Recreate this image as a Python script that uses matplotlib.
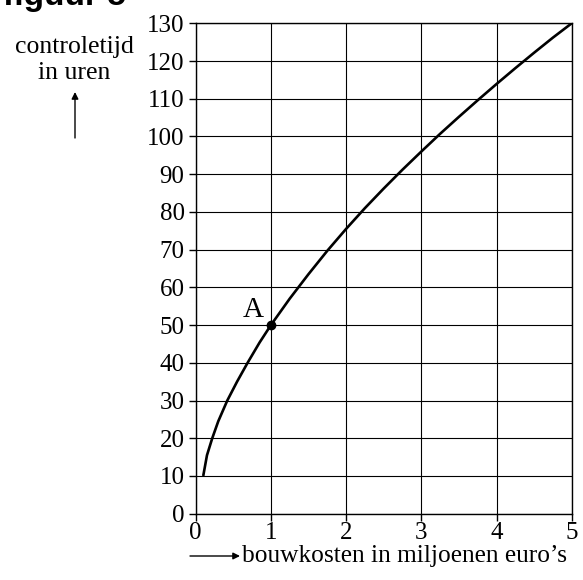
import numpy as np
import matplotlib.pyplot as plt

# values (bouwkosten in miljoenen, controletijd in uren)
kosten = [0.1, 0.15, 0.22, 0.3, 0.42, 0.55, 0.69, 0.85, 1.0, 1.25, 1.5, 1.75,
          2.0, 2.25, 2.5, 2.75, 3.0, 3.25, 3.5, 3.75, 4.0, 4.25, 4.5, 4.75, 5.0]
uren = [10, 15.5, 20, 24.5, 30, 35, 40, 45.4, 50, 57, 63.5, 69.7,
        75.5, 81, 86.2, 91.2, 96, 100.7, 105.2, 109.6, 113.9, 118.1, 122.2, 126.2, 130]
punt_a = (1, 50)
xticks = [0, 1, 2, 3, 4, 5]
yticks = list(range(0, 131, 10))

plt.rcParams['font.family'] = ['Liberation Serif', 'DejaVu Serif']

fig = plt.figure(figsize=(5.83, 5.80), dpi=100)
ax = fig.add_axes([195.7/583, 1-513.7/580, (571.7-195.7)/583, (513.7-23.3)/580])

ax.plot(kosten, uren, color='black', lw=1.9, solid_capstyle='butt', zorder=3)
ax.plot(*punt_a, 'o', color='black', ms=6, zorder=4)
ax.annotate('A', punt_a, xytext=(-13, 11), textcoords='offset points',
            ha='center', va='center', fontsize=21)

ax.set_xlim(0, 5)
ax.set_ylim(0, 130)
ax.set_xticks(xticks)
ax.set_yticks(yticks)
ax.grid(True, color='black', lw=0.8)
for s in ax.spines.values():
    s.set_linewidth(1.0)
ax.tick_params(direction='out', length=5, width=1.0, labelsize=18, colors='black')
ax.tick_params(axis='x', pad=1)
ax.tick_params(axis='y', pad=3)

fig.text(74/583, 1-47/580, 'controletijd', ha='center', va='center', fontsize=18.5)
fig.text(74/583, 1-73/580, 'in uren', ha='center', va='center', fontsize=18.5)
fig.add_artist(plt.Annotation('', xy=(75/583, 1-92/580), xytext=(75/583, 1-138/580),
                              xycoords='figure fraction',
                              arrowprops=dict(arrowstyle='-|>', color='black', lw=1,
                                              mutation_scale=10, shrinkA=0, shrinkB=0)))
fig.add_artist(plt.Annotation('', xy=(240/583, 1-556/580), xytext=(190/583, 1-556/580),
                              xycoords='figure fraction',
                              arrowprops=dict(arrowstyle='-|>', color='black', lw=1,
                                              mutation_scale=10, shrinkA=0, shrinkB=0)))
fig.text(242/583, 1-556/580, 'bouwkosten in miljoenen euro\u2019s', ha='left', va='center',
         fontsize=18.3)

fig.text(3/583, 1-5/580, 'figuur 5', ha='left', va='baseline', fontsize=24,
         fontweight='bold', family=['Liberation Sans', 'DejaVu Sans'])

fig.savefig('out.png', dpi=100)
